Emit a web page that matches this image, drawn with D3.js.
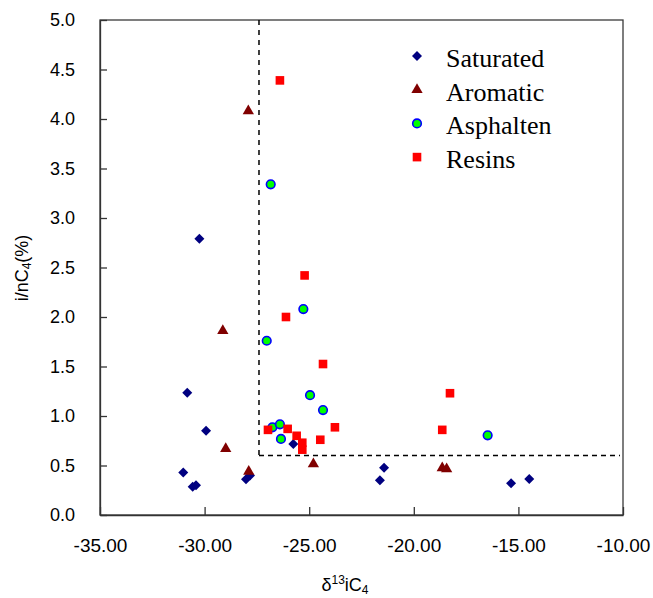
<!DOCTYPE html>
<html>
<head>
<meta charset="utf-8">
<script src="https://cdn.jsdelivr.net/npm/d3@7"></script>
<style>
body{margin:0;background:#fff;}
svg{display:block;}
</style>
</head>
<body>
<svg id="chart" width="653" height="598"></svg>
<script>
const xTicks = [-35, -30, -25, -20, -15, -10];
const xTickLabels = ["-35.00","-30.00","-25.00","-20.00","-15.00","-10.00"];
const yTicks = [0, 0.5, 1, 1.5, 2, 2.5, 3, 3.5, 4, 4.5, 5];
const yTickLabels = ["0.0","0.5","1.0","1.5","2.0","2.5","3.0","3.5","4.0","4.5","5.0"];

const seriesNames = ["Saturated","Aromatic","Asphalten","Resins"];

const satX = [-30.83,-30.25,-29.93,-31.02,-30.57,-30.41,-28.02,-27.83,-25.76,-21.42,-21.62,-15.35,-14.48];
const satY = [1.235,2.79,0.85,0.43,0.286,0.30,0.36,0.40,0.717,0.478,0.35,0.32,0.364];

const aroX = [-27.91,-29.13,-28.99,-27.89,-24.80,-18.64,-18.43];
const aroY = [4.08,1.86,0.67,0.44,0.515,0.475,0.465];

const aspX = [-26.84,-25.28,-27.03,-24.96,-24.34,-26.76,-26.40,-26.35,-16.47];
const aspY = [3.34,2.08,1.76,1.21,1.06,0.886,0.916,0.768,0.805];

const resX = [-26.40,-25.22,-26.11,-24.34,-26.97,-26.03,-25.60,-25.33,-25.33,-24.47,-23.77,-18.27,-18.64];
const resY = [4.39,2.42,2.00,1.525,0.86,0.87,0.80,0.73,0.66,0.76,0.886,1.23,0.86];

const cutX = -27.4;
const cutY = 0.6;

const svg = d3.select("#chart");
const L = 100, R = 623, T = 20, B = 515;
const x = d3.scaleLinear().domain([-35, -10]).range([L, R]);
const y = d3.scaleLinear().domain([0, 5]).range([B, T]);

// frame
svg.append("rect").attr("x", L).attr("y", T).attr("width", R - L).attr("height", B - T)
  .attr("fill", "none").attr("stroke", "#3a3a3a").attr("stroke-width", 1.3);

// axes
const xAxis = d3.axisBottom(x).tickValues(xTicks).tickSizeInner(-8).tickSizeOuter(0)
  .tickFormat((d, i) => xTickLabels[i]).tickPadding(24);
const gx = svg.append("g").attr("transform", `translate(0,${B})`).call(xAxis);
gx.select(".domain").attr("stroke", "#333").attr("stroke-width", 1.3);
gx.selectAll(".tick line").attr("stroke", "#333").attr("stroke-width", 1.3);
gx.selectAll("text").attr("font-family", "Liberation Sans, Arial, sans-serif").attr("font-size", 19).attr("fill", "#000");

const yAxis = d3.axisLeft(y).tickValues(yTicks).tickSizeInner(-7).tickSizeOuter(0)
  .tickFormat((d, i) => yTickLabels[i]).tickPadding(25);
const gy = svg.append("g").attr("transform", `translate(${L},0)`).call(yAxis);
gy.select(".domain").attr("stroke", "#333").attr("stroke-width", 1.3);
gy.selectAll(".tick line").attr("stroke", "#333").attr("stroke-width", 1.3);
gy.selectAll("text").attr("font-family", "Liberation Sans, Arial, sans-serif").attr("font-size", 18).attr("fill", "#000");

// dashed cut lines
svg.append("line").attr("x1", x(cutX)).attr("x2", x(cutX)).attr("y1", y(5)).attr("y2", y(cutY))
  .attr("stroke", "#000").attr("stroke-width", 1.5).attr("stroke-dasharray", "5,5");
svg.append("line").attr("x1", x(cutX)).attr("x2", x(-10) - 3).attr("y1", y(cutY)).attr("y2", y(cutY))
  .attr("stroke", "#000").attr("stroke-width", 1.5).attr("stroke-dasharray", "5,4");

// markers
function zip(a, b) { return a.map((v, i) => [v, b[i]]); }
const diamond = d3.symbol().type(d3.symbolSquare).size(50)();
const tri = d3.symbol().type(d3.symbolTriangle).size(55)();

function drawSat(g, px, py) {
  g.append("path").attr("d", diamond).attr("transform", `translate(${px},${py}) rotate(45)`).attr("fill", "#000080");
}
function drawAro(g, px, py) {
  g.append("path").attr("d", tri).attr("transform", `translate(${px},${py})`).attr("fill", "#800000");
}
function drawAsp(g, px, py) {
  g.append("circle").attr("cx", px).attr("cy", py).attr("r", 4.3).attr("fill", "#00ff00").attr("stroke", "#0000ff").attr("stroke-width", 1.6);
}
function drawRes(g, px, py) {
  g.append("rect").attr("x", px - 4.3).attr("y", py - 4.3).attr("width", 8.6).attr("height", 8.6).attr("fill", "#ff0000");
}

const gp = svg.append("g");
zip(satX, satY).forEach(d => drawSat(gp, x(d[0]), y(d[1])));
zip(aroX, aroY).forEach(d => drawAro(gp, x(d[0]), y(d[1])));
zip(aspX, aspY).forEach(d => drawAsp(gp, x(d[0]), y(d[1])));
zip(resX, resY).forEach(d => drawRes(gp, x(d[0]), y(d[1])));

// legend
const drawers = [drawSat, drawAro, drawAsp, drawRes];
const lg = svg.append("g");
seriesNames.forEach((name, i) => {
  const cy = 56 + i * 33.7;
  drawers[i](lg, 417, cy);
  lg.append("text").attr("x", 446).attr("y", cy + 11).text(name)
    .attr("font-family", "Liberation Serif, Times New Roman, serif").attr("font-size", 26).attr("fill", "#000");
});

// axis titles
const xt = svg.append("text").attr("x", 345).attr("y", 591).attr("text-anchor", "middle")
  .attr("font-family", "Liberation Sans, Arial, sans-serif").attr("font-size", 18).attr("fill", "#000");
xt.append("tspan").text("δ");
xt.append("tspan").text("13").attr("font-size", 12).attr("dy", -7);
xt.append("tspan").text("iC").attr("dy", 7);
xt.append("tspan").text("4").attr("font-size", 12).attr("dy", 3);

const yt = svg.append("text").attr("transform", "translate(28,268) rotate(-90)").attr("text-anchor", "middle")
  .attr("font-family", "Liberation Sans, Arial, sans-serif").attr("font-size", 18).attr("fill", "#000");
yt.append("tspan").text("i/nC");
yt.append("tspan").text("4").attr("font-size", 12).attr("dy", 3);
yt.append("tspan").text("(%)").attr("dy", -3);
</script>
</body>
</html>
